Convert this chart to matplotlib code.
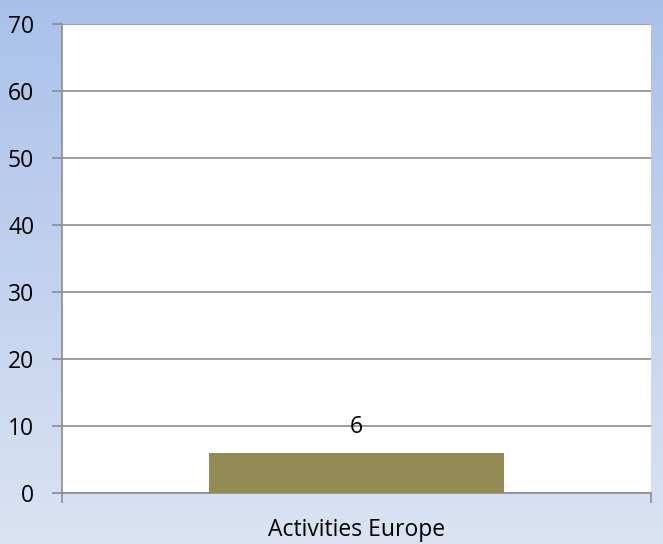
import numpy as np
import matplotlib.pyplot as plt
from matplotlib.colors import LinearSegmentedColormap

categories = ["Activities Europe"]
values = [6]
y_ticks = [0, 10, 20, 30, 40, 50, 60, 70]

plt.rcParams["font.family"] = ["Open Sans", "DejaVu Sans"]

W, H = 663, 544
fig = plt.figure(figsize=(W / 100, H / 100), dpi=100)

# background gradient (blue at top, pale at bottom)
bg = fig.add_axes([0, 0, 1, 1], zorder=0)
cmap = LinearSegmentedColormap.from_list("bg", ["#a9c1e9", "#dbe3f3"])
grad = np.linspace(0, 1, 256).reshape(-1, 1)
bg.imshow(grad, aspect="auto", cmap=cmap, extent=[0, 1, 0, 1], origin="upper")
bg.axis("off")

left, right, top, bottom = 62, 651, 24, 493
ax = fig.add_axes([left / W, 1 - bottom / H, (right - left) / W, (bottom - top) / H], zorder=1)
ax.set_facecolor("white")

FS = 16.5

x = np.arange(len(categories))
bars = ax.bar(x, values, width=0.5, color="#948A54", zorder=3)
for b, v in zip(bars, values):
    ax.text(b.get_x() + b.get_width() / 2, v + 3.9, str(v), ha="center", va="center",
            fontsize=FS, zorder=4)

ax.set_xlim(-0.5, 0.5)
ax.set_ylim(0, 70)
ax.set_yticks(y_ticks)
ax.set_yticklabels([str(t) for t in y_ticks], fontsize=FS)
ax.yaxis.grid(True, color="#8c8c8c", linewidth=1.2, zorder=1)
ax.set_axisbelow(True)

ax.set_xticks([0])
ax.set_xticklabels(categories, fontsize=FS)
ax.tick_params(axis="x", length=0, pad=18)
ax.set_xticks([-0.5, 0.5], minor=True)
ax.tick_params(axis="x", which="minor", length=7, width=1.2, color="#8c8c8c", direction="out")
ax.tick_params(axis="y", length=7, width=1.2, color="#8c8c8c", pad=13)

for s in ["top", "right"]:
    ax.spines[s].set_visible(False)
for s in ["left", "bottom"]:
    ax.spines[s].set_color("#8c8c8c")
    ax.spines[s].set_linewidth(1.2)

fig.savefig("out.png", dpi=100)
